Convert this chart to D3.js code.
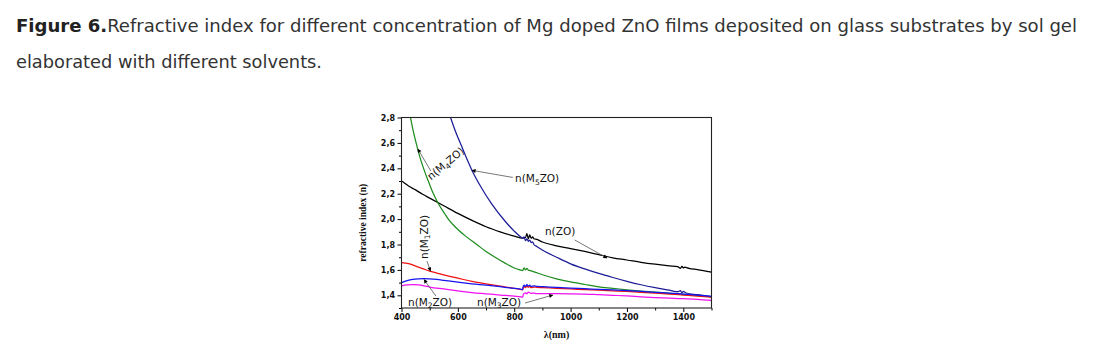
<!DOCTYPE html>
<html><head><meta charset="utf-8">
<script src="https://cdn.jsdelivr.net/npm/d3@7"></script>
<style>
html,body{margin:0;padding:0;background:#fff;}
svg{display:block;}
</style></head>
<body>
<svg id="c" width="1093" height="356"></svg>
<script>
// ---------- DATA ----------
const xTicks = [400, 600, 800, 1000, 1200, 1400];
const yTicks = [1.4, 1.6, 1.8, 2.0, 2.2, 2.4, 2.6, 2.8];

const wlZO = [400,410,425,450,475,500,550,600,650,700,750,800,830,840,845,850,855,860,865,870,880,900,950,1000,1050,1100,1150,1200,1250,1300,1350,1380,1390,1395,1400,1405,1420,1450,1500];
const nZO  = [2.30,2.285,2.26,2.23,2.195,2.165,2.105,2.045,1.99,1.94,1.90,1.866,1.85,1.855,1.885,1.845,1.875,1.85,1.86,1.845,1.84,1.82,1.79,1.768,1.745,1.72,1.695,1.678,1.66,1.645,1.632,1.625,1.612,1.628,1.615,1.622,1.612,1.603,1.582];

const wlM4 = [432,441,453,465,483,495,512,530,554,566,590,625,667,700,732,766,800,820,830,835,840,845,850,860,870,900,950,1000,1050,1100,1150,1200,1250,1300,1350,1400,1450,1500];
const nM4  = [2.80,2.70,2.59,2.49,2.37,2.30,2.205,2.125,2.04,2.0,1.94,1.87,1.80,1.745,1.70,1.655,1.615,1.60,1.595,1.615,1.60,1.612,1.598,1.592,1.585,1.562,1.53,1.505,1.485,1.466,1.455,1.443,1.433,1.425,1.416,1.408,1.399,1.388];

const wlM5 = [574,590,613,631,652,684,720,767,800,820,830,835,840,845,850,855,860,865,870,880,909,950,1000,1050,1100,1150,1200,1250,1300,1350,1380,1390,1395,1400,1410,1450,1500];
const nM5  = [2.80,2.70,2.575,2.48,2.375,2.245,2.12,1.985,1.905,1.865,1.85,1.86,1.83,1.845,1.825,1.835,1.815,1.82,1.80,1.785,1.745,1.70,1.648,1.608,1.572,1.54,1.51,1.483,1.46,1.44,1.428,1.436,1.42,1.43,1.418,1.405,1.39];

const wlM1 = [400,425,450,475,500,525,550,600,650,700,750,800,825,830,832,835,840,845,850,855,860,870,880,900,950,1000,1050,1100,1150,1200,1250,1300,1350,1400,1450,1500];
const nM1  = [1.657,1.65,1.63,1.61,1.59,1.575,1.56,1.535,1.51,1.49,1.472,1.455,1.445,1.442,1.465,1.47,1.46,1.475,1.462,1.47,1.46,1.465,1.462,1.46,1.455,1.45,1.445,1.44,1.435,1.43,1.424,1.417,1.41,1.402,1.394,1.385];

const wlM2 = [400,420,440,460,480,500,525,550,600,650,700,750,800,825,830,832,835,840,845,850,855,860,870,880,900,950,1000,1050,1100,1150,1200,1250,1300,1350,1400,1450,1500];
const nM2  = [1.50,1.515,1.525,1.53,1.532,1.53,1.525,1.518,1.503,1.49,1.48,1.468,1.455,1.447,1.445,1.47,1.48,1.47,1.485,1.472,1.48,1.47,1.475,1.47,1.468,1.462,1.457,1.452,1.447,1.442,1.437,1.431,1.424,1.418,1.41,1.402,1.392];

const wlM3 = [400,420,440,460,480,500,550,600,650,700,750,800,825,830,832,835,840,845,850,860,870,880,900,950,1000,1050,1100,1150,1200,1250,1300,1350,1400,1450,1500];
const nM3  = [1.474,1.482,1.484,1.482,1.475,1.465,1.45,1.435,1.422,1.412,1.402,1.393,1.387,1.385,1.405,1.415,1.42,1.412,1.425,1.415,1.418,1.413,1.413,1.413,1.412,1.41,1.405,1.40,1.395,1.388,1.382,1.378,1.373,1.368,1.36];

const seriesNames = ["ZO","M4","M5","M1","M2","M3"];
const seriesColors = ["#000000","#1e8c1e","#1c1c96","#f01010","#1515f0","#f010f0"];
const seriesWl = [wlZO, wlM4, wlM5, wlM1, wlM2, wlM3];
const seriesN  = [nZO, nM4, nM5, nM1, nM2, nM3];

// annotations: label parts, text anchor (wl,n), rotation, arrow tail (wl,n), arrow head (wl,n)
const annLabels = [["n(M","5","ZO)"],["n(M","4","ZO)"],["n(ZO)","",""],["n(M","1","ZO)"],["n(M","2","ZO)"],["n(M","3","ZO)"]];
const annText = [[803,2.292],[505,2.304],[909,1.875],[494,1.686],[423,1.316],[668,1.316]];
const annRot  = [0,-40,0,-90,0,0];
const annTail = [[795,2.328],[504,2.379],[1015,1.835],[490,1.670],[522,1.394],[838,1.339]];
const annHead = [[650,2.384],[458,2.552],[1129,1.694],[503,1.591],[480,1.524],[937,1.402]];

// ---------- DRAW ----------
const svg = d3.select("#c");
const L = 401.5, R = 711.5, T = 117.5, B = 308;
const x = d3.scaleLinear().domain([400,1500]).range([L,R]);
const y = d3.scaleLinear().domain([1.3,2.8]).range([B,T]);

const titleFont = "'Liberation Sans Narrow','DejaVu Sans Condensed','Arial Narrow',sans-serif";
const title = svg.append("text")
  .attr("x",16).attr("y",32)
  .attr("font-family",titleFont)
  .attr("font-size",18).attr("fill","#333")
  .attr("textLength",1061).attr("lengthAdjust","spacingAndGlyphs");
title.append("tspan").attr("font-weight","bold").attr("fill","#222").text("Figure 6.");
title.append("tspan").text("Refractive index for different concentration of Mg doped ZnO films deposited on glass substrates by sol gel");
svg.append("text")
  .attr("x",16).attr("y",68)
  .attr("font-family",titleFont)
  .attr("font-size",18).attr("fill","#333")
  .attr("textLength",306).attr("lengthAdjust","spacingAndGlyphs")
  .text("elaborated with different solvents.");

svg.append("clipPath").attr("id","clip").append("rect")
  .attr("x",L).attr("y",T).attr("width",R-L).attr("height",B-T);

const line = d3.line().x(d=>x(d[0])).y(d=>y(d[1])).curve(d3.curveMonotoneX);
const g = svg.append("g").attr("clip-path","url(#clip)");
seriesNames.forEach((nm,i)=>{
  const pts = seriesWl[i].map((w,j)=>[w, seriesN[i][j]]);
  g.append("path").datum(pts)
    .attr("d",line).attr("fill","none")
    .attr("stroke",seriesColors[i]).attr("stroke-width",1.25)
    .attr("stroke-linejoin","round");
});

const tickFont = "'DejaVu Sans',sans-serif";
const xAxis = d3.axisBottom(x).tickValues(xTicks).tickSize(4).tickFormat(d3.format("d"));
const xMinor = d3.axisBottom(x).tickValues([500,700,900,1100,1300,1500]).tickSize(2.5).tickFormat("");
const yFmt = d => d3.format(".1f")(d).replace(".",",");
const yAxis = d3.axisLeft(y).tickValues(yTicks).tickSize(4).tickFormat(yFmt);
const yMinor = d3.axisLeft(y).tickValues([1.3,1.5,1.7,1.9,2.1,2.3,2.5,2.7]).tickSize(2.5).tickFormat("");

function styleAxis(sel){
  sel.select(".domain").remove();
  sel.selectAll("line").attr("stroke","#000").attr("stroke-width",1);
  sel.selectAll("text").attr("font-family",tickFont).attr("font-weight","bold")
    .attr("font-size",8).attr("fill","#111");
}
svg.append("g").attr("transform",`translate(0,${B})`).call(xAxis).call(styleAxis)
  .selectAll("text").attr("dy","0.9em").attr("y",5);
svg.append("g").attr("transform",`translate(0,${B})`).call(xMinor).call(styleAxis);
svg.append("g").attr("transform",`translate(${L},0)`).call(yAxis).call(styleAxis)
  .selectAll("text").attr("x",-6.5);
svg.append("g").attr("transform",`translate(${L},0)`).call(yMinor).call(styleAxis);

svg.append("rect").attr("x",L).attr("y",T).attr("width",R-L).attr("height",B-T)
  .attr("fill","none").attr("stroke","#222").attr("stroke-width",1.1);

svg.append("text").attr("x",(L+R)/2).attr("y",338).attr("text-anchor","middle")
  .attr("font-family","'Liberation Serif','Times New Roman',serif").attr("font-weight","bold")
  .attr("font-size",10).attr("fill","#111").text("λ(nm)");
svg.append("text").attr("transform",`translate(366,${(T+B)/2+10}) rotate(-90)`).attr("text-anchor","middle")
  .attr("font-family","'Liberation Serif','Times New Roman',serif").attr("font-weight","bold")
  .attr("font-size",9.5).attr("fill","#111").text("refractive index (n)");

svg.append("defs").append("marker").attr("id","ah")
  .attr("viewBox","0 0 10 10").attr("refX",9).attr("refY",5)
  .attr("markerWidth",5).attr("markerHeight",4).attr("markerUnits","userSpaceOnUse")
  .attr("orient","auto")
  .append("path").attr("d","M0,0L10,5L0,10Z").attr("fill","#000");

annLabels.forEach((lab,i)=>{
  svg.append("line")
    .attr("x1",x(annTail[i][0])).attr("y1",y(annTail[i][1]))
    .attr("x2",x(annHead[i][0])).attr("y2",y(annHead[i][1]))
    .attr("stroke","#555").attr("stroke-width",0.8).attr("marker-end","url(#ah)");
  const t = svg.append("text")
    .attr("transform",`translate(${x(annText[i][0])},${y(annText[i][1])}) rotate(${annRot[i]})`)
    .attr("font-family","'DejaVu Sans',sans-serif").attr("font-size",10.5).attr("fill","#111");
  t.append("tspan").text(lab[0]);
  if(lab[1]){
    t.append("tspan").attr("font-size",7.5).attr("dy",2.5).text(lab[1]);
    t.append("tspan").attr("dy",-2.5).text(lab[2]);
  }
});
</script>
</body></html>
